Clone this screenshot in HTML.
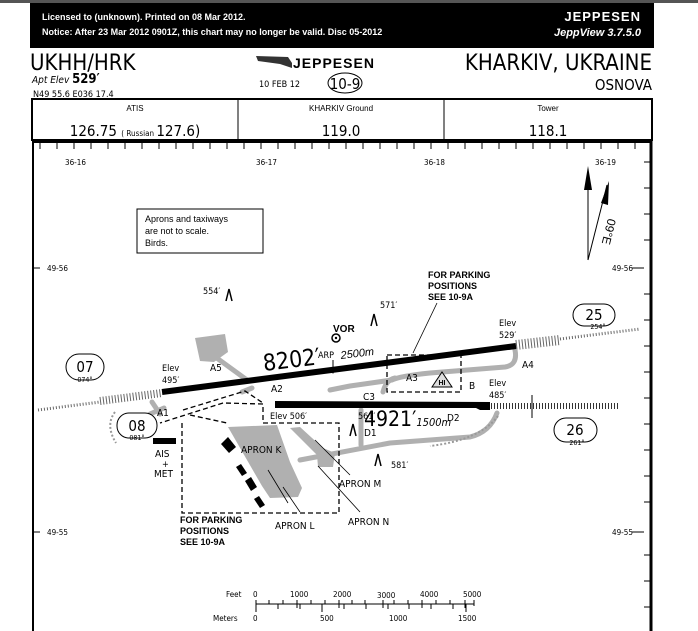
<!DOCTYPE html>
<html><head><meta charset="utf-8"><style>
html,body{margin:0;padding:0;background:#fff;}
svg{display:block;font-family:"Liberation Sans",sans-serif;}
.n{font-family:"DejaVu Sans Condensed","Liberation Sans Narrow","Liberation Sans",sans-serif;}
</style></head><body>
<svg width="698" height="631" viewBox="0 0 698 631">
<rect x="0" y="0" width="698" height="3" fill="#555"/>
<rect x="30" y="3" width="624" height="45" fill="#000"/>
<text x="42" y="20" fill="#fff" font-size="9" font-weight="bold">Licensed to (unknown).  Printed on 08 Mar 2012.</text>
<text x="42" y="35" fill="#fff" font-size="9" font-weight="bold">Notice: After 23 Mar 2012 0901Z, this chart may no longer be valid.  Disc 05-2012</text>
<text x="641" y="21" fill="#fff" font-size="13" font-weight="bold" text-anchor="end" letter-spacing="1">JEPPESEN</text>
<text x="641" y="36" fill="#fff" font-size="11" font-weight="bold" font-style="italic" text-anchor="end">JeppView 3.7.5.0</text>

<text x="30" y="70" font-size="22" class="n">UKHH/HRK</text>
<text x="32" y="83" font-size="10" font-style="italic" class="n">Apt Elev <tspan font-size="13" font-weight="bold" font-style="normal">529′</tspan></text>
<text x="33" y="97" font-size="9" class="n">N49 55.6   E036 17.4</text>
<path d="M256 56 L288 57 L292 63 L292 68 L280 64 L258 61 Z" fill="#333"/>
<text x="293" y="68" font-size="14" font-weight="bold" letter-spacing="1">JEPPESEN</text>
<text x="259" y="87" font-size="9" class="n">10 FEB 12</text>
<ellipse cx="345" cy="83" rx="17" ry="10" fill="none" stroke="#000" stroke-width="1"/>
<text x="345" y="89" font-size="15" text-anchor="middle" class="n">10-9</text>
<text x="652" y="70" font-size="22" text-anchor="end" class="n">KHARKIV, UKRAINE</text>
<text x="652" y="90" font-size="15" text-anchor="end" class="n">OSNOVA</text>

<rect x="32" y="99" width="620" height="41" fill="none" stroke="#000" stroke-width="2"/>
<line x1="238" y1="99" x2="238" y2="140" stroke="#000"/>
<line x1="444" y1="99" x2="444" y2="140" stroke="#000"/>
<text x="135" y="111" font-size="8" text-anchor="middle">ATIS</text>
<text x="341" y="111" font-size="8" text-anchor="middle">KHARKIV Ground</text>
<text x="548" y="111" font-size="8" text-anchor="middle">Tower</text>
<text x="135" y="136" font-size="15" text-anchor="middle" class="n">126.75 <tspan font-size="8">( Russian </tspan>127.6)</text>
<text x="341" y="136" font-size="15" text-anchor="middle" class="n">119.0</text>
<text x="548" y="136" font-size="15" text-anchor="middle" class="n">118.1</text>

<!-- chart frame -->
<line x1="33" y1="141" x2="33" y2="631" stroke="#000" stroke-width="2"/>
<line x1="651" y1="141" x2="651" y2="631" stroke="#000" stroke-width="3"/>
<line x1="32" y1="142" x2="652" y2="142" stroke="#000" stroke-width="2"/>
<g stroke="#000" stroke-width="1">
<path d="M40 142v7M57 142v7M74 142v7M91 142v7M108 142v7M125 142v7M142 142v7M159 142v7M176 142v7M193 142v7M210 142v7M227 142v7M244 142v7M261 142v7M278 142v7M295 142v7M312 142v7M329 142v7M346 142v7M363 142v7M380 142v7M397 142v7M414 142v7M431 142v7M448 142v7M465 142v7M482 142v7M499 142v7M516 142v7M533 142v7M550 142v7M567 142v7M584 142v7M601 142v7M618 142v7M635 142v7"/>
<path d="M644 162h7M644 188h7M644 214h7M644 240h7M644 294h7M644 320h7M644 346h7M644 372h7M644 398h7M644 424h7M644 450h7M644 476h7M644 502h7M644 555h7M644 581h7M644 607h7"/>
<path d="M33 268h7M33 532h7"/>
</g>
<g font-size="8" class="n">
<text x="65" y="165">36-16</text><text x="256" y="165">36-17</text><text x="424" y="165">36-18</text><text x="595" y="165">36-19</text>
<text x="47" y="271">49-56</text><text x="612" y="271">49-56</text>
<text x="47" y="535">49-55</text><text x="612" y="535">49-55</text>
</g>
<line x1="632" y1="268" x2="644" y2="268" stroke="#000"/>
<line x1="632" y1="532" x2="644" y2="532" stroke="#000"/>

<!-- north arrows -->
<line x1="588" y1="260" x2="588" y2="175" stroke="#000"/>
<path d="M588 166 L584 190 L592 190 Z" fill="#000"/>
<line x1="588" y1="260" x2="607" y2="185" stroke="#000"/>
<path d="M609 181 L601 203 L608 205 Z" fill="#000"/>
<text x="0" y="0" font-size="12" transform="translate(608,218) rotate(104)">09°E</text>

<rect x="137" y="209" width="126" height="44" fill="none" stroke="#000"/>
<text x="145" y="222" font-size="9">Aprons and taxiways</text>
<text x="145" y="234" font-size="9">are not to scale.</text>
<text x="145" y="246" font-size="9">Birds.</text>

<!-- approach lights -->
<g stroke="#666" fill="none">
<line x1="38" y1="410" x2="100" y2="402" stroke-width="3" stroke-dasharray="1 2"/>
<line x1="100" y1="401" x2="162" y2="393" stroke-width="8" stroke-dasharray="1 2"/>
<line x1="516" y1="345" x2="560" y2="340" stroke-width="10" stroke-dasharray="1 2"/>
<line x1="560" y1="339" x2="640" y2="329" stroke-width="3" stroke-dasharray="1 2"/>
<line x1="491" y1="406" x2="620" y2="406" stroke-width="6" stroke-dasharray="1 2" stroke="#333"/>
</g>
<line x1="532" y1="395" x2="532" y2="418" stroke="#000"/>

<!-- gray taxiways / aprons -->
<g fill="#b0b0b0" stroke="none">
<path d="M195 338 L225 334 L228 352 L214 362 L200 361 Z"/>
<path d="M228 427 L277 425 L290 462 L302 488 L298 497 L270 498 L262 486 Z"/>
<path d="M290 428 L300 427 L323 448 L335 453 L333 467 L318 467 L317 455 Z"/>
</g>
<g fill="none" stroke="#b0b0b0" stroke-width="5" stroke-linecap="round" stroke-linejoin="round">
<path d="M214 356 L247 380"/>
<path d="M515 350 Q518 365 505 367 L430 373 Q400 376 392 380 L350 386 L330 390"/>
<path d="M383 392 Q386 380 395 378"/>
<path d="M497 413 Q490 432 470 437 L390 443 L300 460"/>
<path d="M361 410 L361 445"/>
<path d="M152 402 L160 414"/>
<path d="M150 414 L164 408"/>
<path d="M242 392 L252 388"/>
</g>
<g stroke="#999" stroke-width="2" fill="none" stroke-dasharray="2 2">
<path d="M115 412 Q105 425 116 443"/>
<path d="M498 416 Q480 440 430 446"/>
</g>
<!-- runways -->
<line x1="162" y1="392" x2="516" y2="346" stroke="#000" stroke-width="6"/>
<path d="M275 401 L490 402 L490 410 L480 410 L476 408 L275 408 Z" fill="#000"/>

<!-- dashed boxes -->
<g fill="none" stroke="#000" stroke-width="1.3" stroke-dasharray="5 3">
<rect x="387" y="355" width="74" height="37"/>
<path d="M182 423 L182 513 L339 513 L339 423 L263 423 L263 404 L223 403 L160 423"/>
<path d="M183 410 L245 391 L263 403"/>
<path d="M190 415 L227 423"/>
</g>
<g fill="#000"><rect x="153" y="438" width="23" height="6"/>
<path d="M221 444 l7 -7 l8 10 l-7 6z"/><path d="M236 467 l5 -3 l6 9 l-5 3z"/><path d="M245 481 l6 -4 l6 10 l-6 4z"/><path d="M254 499 l5 -3 l6 9 l-5 3z"/></g>

<!-- labels -->
<g font-size="9" class="n">
<text x="162" y="371">Elev</text><text x="162" y="383">495′</text>
<text x="499" y="326">Elev</text><text x="499" y="338">529′</text>
<text x="489" y="386">Elev</text><text x="489" y="398">485′</text>
<text x="270" y="419">Elev 506′</text>
<text x="358" y="419">561′</text>
<text x="203" y="294">554′</text>
<text x="380" y="308">571′</text>
<text x="391" y="468">581′</text>
<text x="210" y="371" font-size="10">A5</text>
<text x="271" y="392" font-size="10">A2</text>
<text x="157" y="416" font-size="10">A1</text>
<text x="406" y="381" font-size="10">A3</text>
<text x="469" y="389" font-size="10">B</text>
<text x="522" y="368" font-size="10">A4</text>
<text x="363" y="400" font-size="10">C3</text>
<text x="364" y="436" font-size="10">D1</text>
<text x="447" y="421" font-size="10">D2</text>
<text x="318" y="358">ARP</text>
<text x="155" y="457" font-size="10">AIS</text>
<text x="162" y="467">+</text>
<text x="154" y="477" font-size="10">MET</text>
<text x="241" y="453" font-size="10">APRON K</text>
<text x="339" y="487" font-size="10">APRON M</text>
<text x="348" y="525" font-size="10">APRON N</text>
<text x="275" y="529" font-size="10">APRON L</text>
</g>
<text x="264" y="371" font-size="23" class="n" transform="rotate(-7 264 371)">8202′</text>
<text x="341" y="359" font-size="11" font-style="italic" transform="rotate(-7 341 359)">2500m</text>
<text x="364" y="426" font-size="21" class="n">4921′<tspan font-size="11" font-style="italic">1500m</tspan></text>
<text x="333" y="332" font-size="10" font-weight="bold">VOR</text>
<circle cx="336" cy="338" r="4" fill="none" stroke="#000" stroke-width="1.5"/><circle cx="336" cy="338" r="1.2"/>
<line x1="333" y1="360" x2="333" y2="372" stroke="#000"/><path d="M330 368 L336 368 L333 374Z"/>
<g font-size="9" font-weight="bold">
<text x="428" y="278">FOR PARKING</text><text x="428" y="289">POSITIONS</text><text x="428" y="300">SEE 10-9A</text>
<text x="180" y="523">FOR PARKING</text><text x="180" y="534">POSITIONS</text><text x="180" y="545">SEE 10-9A</text>
</g>
<g stroke="#000" stroke-width="0.8" fill="none">
<path d="M437 303 L413 353"/><path d="M268 470 L288 503"/><path d="M315 440 L350 475"/><path d="M318 466 L360 512"/><path d="M283 487 L300 512"/>
</g>
<!-- obstacles -->
<g stroke="#000" stroke-width="1.5" fill="none">
<path d="M226 301 L229 289 L232 301"/><path d="M371 326 L374 314 L377 326"/><path d="M350 436 L353 424 L356 436"/><path d="M375 466 L378 454 L381 466"/>
</g>
<path d="M432 387 L442 372 L452 387 Z" fill="#ddd" stroke="#000"/>
<text x="442" y="385" font-size="7" font-weight="bold" text-anchor="middle">HI</text>
<!-- runway numbers -->
<g fill="#fff" stroke="#000" stroke-width="1">
<rect x="66" y="354" width="38" height="26" rx="13"/>
<rect x="117" y="413" width="40" height="25" rx="12"/>
<rect x="573" y="304" width="42" height="22" rx="11"/>
<rect x="554" y="418" width="43" height="24" rx="12"/>
</g>
<g class="n" text-anchor="middle">
<text x="85" y="372" font-size="15">07</text><text x="85" y="382" font-size="7">074°</text>
<text x="137" y="431" font-size="15">08</text><text x="137" y="440" font-size="7">081°</text>
<text x="594" y="320" font-size="15">25</text><text x="598" y="329" font-size="7">254°</text>
<text x="575" y="435" font-size="15">26</text><text x="577" y="445" font-size="7">261°</text>
</g>
<!-- scale -->
<g font-size="8" class="n">
<text x="226" y="597">Feet</text><text x="213" y="621">Meters</text>
<text x="253" y="597">0</text><text x="290" y="597">1000</text><text x="333" y="597">2000</text><text x="377" y="598">3000</text><text x="420" y="597">4000</text><text x="463" y="597">5000</text>
<text x="253" y="621">0</text><text x="320" y="621">500</text><text x="389" y="621">1000</text><text x="458" y="621">1500</text>
</g>
<g stroke="#000" stroke-width="1">
<line x1="256" y1="604" x2="474" y2="604"/>
<path d="M256 600v12M269 600v4M283 600v4M297 600v8M311 600v4M325 600v4M339 600v8M352 600v4M365 600v4M383 600v8M394 600v4M408 600v4M422 600v8M436 600v4M450 600v4M465 600v8M474 600v6"/>
<path d="M278 604v5M300 604v5M322 604v8M344 604v5M366 604v5M388 604v5M409 604v5M431 604v5M453 604v5M466 604v8"/>
</g>
</svg>
</body></html>
